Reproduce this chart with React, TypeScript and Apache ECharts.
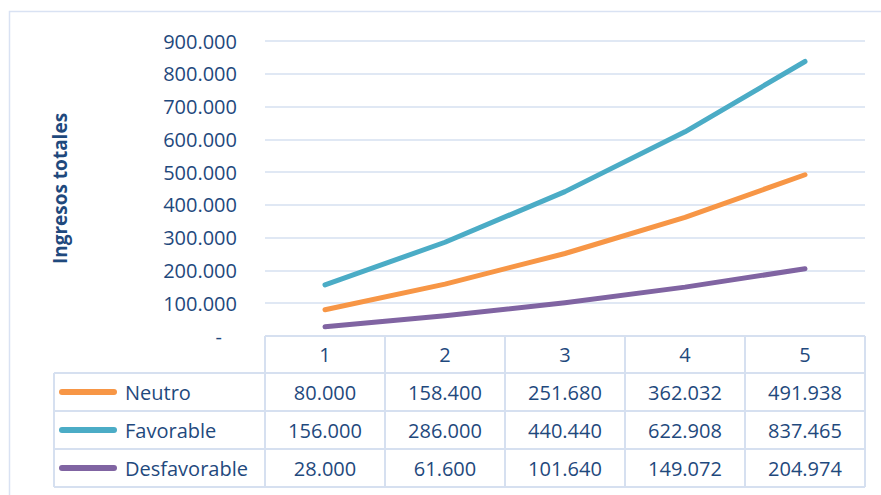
import React, { useEffect, useRef } from "react";
import * as echarts from "echarts";

const categories = ["1", "2", "3", "4", "5"];
const seriesNames = ["Neutro", "Favorable", "Desfavorable"];
const neutro = [80000, 158400, 251680, 362032, 491938];
const favorable = [156000, 286000, 440440, 622908, 837465];
const desfavorable = [28000, 61600, 101640, 149072, 204974];
const seriesColors = ["#F79646", "#4BACC6", "#8064A2"];
const yTitle = "Ingresos totales";
const yMin = 0;
const yMax = 900000;
const yInterval = 100000;

const TEXT = "#1F497D";
const GRID = "#D6E0F0";
const FONT = "'Open Sans', sans-serif";

const fmt = (n: number) => String(Math.round(n)).replace(/\B(?=(\d{3})+(?!\d))/g, ".");

export default function App() {
  const ref = useRef<HTMLDivElement>(null);
  useEffect(() => {
    if (!ref.current) return;
    const chart = echarts.init(ref.current, undefined, { renderer: "svg" });
    const values = [neutro, favorable, desfavorable];
    chart.setOption({
      animation: false,
      backgroundColor: "#fff",
      textStyle: { fontFamily: FONT },
      grid: { left: 265, right: 16, top: 41, bottom: 159, containLabel: false },
      xAxis: {
        type: "category",
        data: categories,
        boundaryGap: true,
        axisLine: { show: false },
        axisTick: { show: false },
        axisLabel: { show: false },
        splitLine: { show: false },
      },
      yAxis: {
        type: "value",
        min: yMin,
        max: yMax,
        interval: yInterval,
        name: yTitle,
        nameLocation: "middle",
        nameGap: 196,
        nameRotate: 90,
        nameTextStyle: { color: TEXT, fontSize: 19, fontWeight: "bold", fontFamily: FONT },
        axisLine: { show: false },
        axisTick: { show: false },
        axisLabel: {
          color: TEXT,
          fontSize: 20,
          fontFamily: FONT,
          margin: 28,
          formatter: (v: number) => (v === 0 ? "{d|-}" : fmt(v)),
          rich: { d: { color: TEXT, fontSize: 20, fontFamily: FONT, padding: [0, 15, 0, 0] } },
        },
        splitLine: { lineStyle: { color: GRID, width: 1.5 } },
      },
      series: seriesNames.map((name, i) => ({
        name,
        type: "line",
        data: values[i],
        symbol: "none",
        lineStyle: { color: seriesColors[i], width: 5, cap: "round", join: "round" },
        itemStyle: { color: seriesColors[i] },
      })),
    });

    // Build data table from the axis scale positions
    const x0 = chart.convertToPixel({ xAxisIndex: 0 }, 0) as number;
    const x1 = chart.convertToPixel({ xAxisIndex: 0 }, 1) as number;
    const cellW = x1 - x0;
    const tableLeft = x0 - cellW / 2;
    const tableRight = tableLeft + cellW * categories.length;
    const yZero = chart.convertToPixel({ yAxisIndex: 0 }, 0) as number;
    const rowEdges = [yZero, yZero + 37, yZero + 75, yZero + 113, yZero + 151];
    const legendLeft = 54;
    const lineStyle = { stroke: GRID, lineWidth: 2 };
    const elements: any[] = [];
    elements.push({
      type: "rect",
      shape: { x: 9.5, y: 11.5, width: 900, height: 520 },
      style: { fill: "none", stroke: "#D9E2F3", lineWidth: 1.5 },
      silent: true,
    });
    // horizontal lines
    rowEdges.forEach((y, i) => {
      elements.push({
        type: "line",
        shape: { x1: i === 0 ? tableLeft : legendLeft, y1: y, x2: tableRight, y2: y },
        style: lineStyle,
        silent: true,
      });
    });
    // vertical lines
    for (let c = 0; c <= categories.length; c++) {
      const x = tableLeft + c * cellW;
      elements.push({
        type: "line",
        shape: { x1: x, y1: rowEdges[0], x2: x, y2: rowEdges[rowEdges.length - 1] },
        style: lineStyle,
        silent: true,
      });
    }
    elements.push({
      type: "line",
      shape: { x1: legendLeft, y1: rowEdges[1], x2: legendLeft, y2: rowEdges[rowEdges.length - 1] },
      style: lineStyle,
      silent: true,
    });
    const cellText = (text: string, x: number, y: number, align = "center") => ({
      type: "text",
      x,
      y,
      style: {
        text,
        fill: TEXT,
        font: `20px ${FONT}`,
        align,
        verticalAlign: "middle",
      },
      silent: true,
    });
    categories.forEach((c, i) => {
      const cx = chart.convertToPixel({ xAxisIndex: 0 }, i) as number;
      elements.push(cellText(c, cx, (rowEdges[0] + rowEdges[1]) / 2));
    });
    seriesNames.forEach((name, r) => {
      const cy = (rowEdges[r + 1] + rowEdges[r + 2]) / 2;
      elements.push({
        type: "line",
        shape: { x1: 62, y1: cy, x2: 114, y2: cy },
        style: { stroke: seriesColors[r], lineWidth: 6, lineCap: "round" },
        silent: true,
      });
      elements.push(cellText(name, 125, cy, "left"));
      values[r].forEach((v, i) => {
        const cx = chart.convertToPixel({ xAxisIndex: 0 }, i) as number;
        elements.push(cellText(fmt(v), cx, cy));
      });
    });
    chart.setOption({ graphic: { elements } });
    return () => chart.dispose();
  }, []);
  return (
    <div
      ref={ref}
      style={{ position: "absolute", left: 0, top: 0, width: 881, height: 495 }}
    />
  );
}
